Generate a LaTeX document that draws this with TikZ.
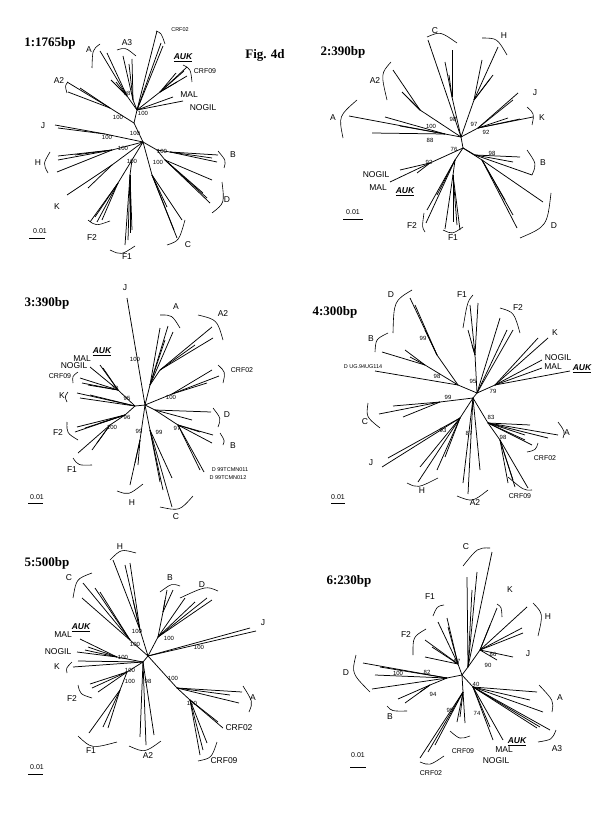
\documentclass[tikz,border=0pt]{standalone}
\usepackage{fontspec}
\setmainfont{Liberation Sans}
\newfontfamily\tnr{Liberation Serif}
\usetikzlibrary{calc}
\newcounter{nn}
\tikzset{
 brn/.style={line width=0.75pt},
 brk/.style={line width=0.6pt},
 lab/.style={inner sep=0pt, font=\fontsize{8.5}{9}\selectfont},
 labs/.style={inner sep=0pt, font=\fontsize{7}{8}\selectfont},
 labxs/.style={inner sep=0pt, font=\fontsize{5.5}{6}\selectfont},
 bsn/.style={inner sep=0pt, font=\fontsize{6}{7}\selectfont},
 ttl/.style={inner sep=0pt, font=\fontsize{13}{14}\selectfont\tnr\bfseries},
 auk/.style={inner sep=0pt, font=\fontsize{8.5}{9}\selectfont\bfseries\itshape},
}
\newcommand\lb[3]{\stepcounter{nn}\node[#1] (t\arabic{nn}) at (#2) {#3};}
\newcommand\lv[2]{\foreach \a/\b in {#2} {\draw[brn] (#1) -- (\a,\b);}}
\newcommand\bk[3]{\draw[brk] let \p1=($(#2)!0.5!(#3)$), \p2=($(#3)-(#2)$), \n1={0.29*veclen(\x2,\y2)} in (#2) .. controls ($(\p1)!-\n1!(#1)$) .. (#3);}
\begin{document}
\begin{tikzpicture}[x=1pt,y=-1pt]
\fill[white] (0,0) rectangle (600,813);
\useasboundingbox (0,0) rectangle (600,813);

% ================= Panel 1
\lb{ttl}{50,43}{1:1765bp}
\lb{ttl}{265,55}{Fig. 4d}
\coordinate (O1) at (143,142);
\coordinate (P1u) at (134,123);
\coordinate (P1v) at (137,110);
\draw[brn] (O1) -- (P1u) -- (P1v);
\lv{P1v}{157/31,163/46,161/43,173/97,183/101}
\coordinate (P1a) at (160,92); \draw[brn] (P1v)--(P1a);
\lv{P1a}{187/67,184/71,187/76,177/82,176/73}
\coordinate (P1b) at (133,100); \draw[brn] (P1v)--(P1b);
\lv{P1b}{132/59,123/56,129/64}
\coordinate (P1c) at (127,96); \draw[brn] (P1v)--(P1c);
\lv{P1c}{100/51,107/53,116/82,111/80}
\coordinate (P1d) at (110,108); \draw[brn] (P1u)--(P1d);
\lv{P1d}{67/82,68/92,80/88}
\coordinate (P1j) at (105,134); \draw[brn] (O1)--(P1j);
\lv{P1j}{55/125,58/128}
\coordinate (P1h) at (112,150); \draw[brn] (O1)--(P1h);
\lv{P1h}{58/156,58/160,57/172,75/155}
\coordinate (P1k) at (112,165); \draw[brn] (O1)--(P1k);
\lv{P1k}{67/195,88/188}
\coordinate (P1f) at (132,160); \draw[brn] (O1)--(P1f);
\coordinate (P1g) at (118,183); \draw[brn] (P1f)--(P1g);
\lv{P1g}{90/222,97/222,102/220,95/217}
\coordinate (P1i) at (130,175); \draw[brn] (P1f)--(P1i);
\lv{P1i}{125/245,130/233,132/230,128/240}
\coordinate (P1cc) at (152,175); \draw[brn] (O1)--(P1cc);
\lv{P1cc}{177/238,182/220,167/207,174/230}
\coordinate (P1e) at (157,150); \draw[brn] (O1)--(P1e);
\coordinate (P1bb) at (170,152); \draw[brn] (P1e)--(P1bb);
\lv{P1bb}{218/155,217/162,212/158}
\coordinate (P1dd) at (165,160); \draw[brn] (P1e)--(P1dd);
\lv{P1dd}{210/203,212/180,203/193,207/198}
\bk{O1}{92,68}{100,44}
\bk{O1}{117,50}{136,56}
\bk{O1}{156,31}{165,44}
\bk{O1}{183,65}{192,82}
\bk{O1}{68,82}{67,93}
\bk{O1}{50,152}{48,173}
\bk{O1}{218,151}{224,168}
\bk{O1}{222,182}{212,213}
\bk{O1}{185,220}{167,245}
\bk{O1}{110,250}{135,246}
\bk{O1}{88,220}{110,221}
\lb{lab}{89,50}{A}
\lb{lab}{127,43}{A3}
\lb{labxs}{180,30}{CRF02}
\lb{auk}{183,58}{\underline{AUK}}
\lb{labs}{205,71}{CRF09}
\lb{lab}{189,95}{MAL}
\lb{lab}{203,108}{NOGIL}
\lb{lab}{59,81}{A2}
\lb{lab}{43,126}{J}
\lb{lab}{38,163}{H}
\lb{lab}{233,155}{B}
\lb{lab}{227,200}{D}
\lb{lab}{57,207}{K}
\lb{lab}{92,238}{F2}
\lb{lab}{127,257}{F1}
\lb{lab}{188,245}{C}
\lb{bsn}{143,113}{100}
\lb{bsn}{118,117}{100}
\lb{bsn}{127,93}{98}
\lb{bsn}{135,133}{100}
\lb{bsn}{107,137}{100}
\lb{bsn}{123,148}{100}
\lb{bsn}{132,161}{100}
\lb{bsn}{162,151}{100}
\lb{bsn}{158,162}{100}
\lb{labs}{40,231}{0.01}
\draw[brn] (29,238) -- (45,238);

% ================= Panel 2
\lb{ttl}{343,52}{2:390bp}
\coordinate (O2) at (463,148); \coordinate (P2u) at (461,137); \draw[brn] (O2)--(P2u);
\lv{P2u}{428/40}
\coordinate (P2c) at (452,97); \draw[brn] (P2u)--(P2c); \lv{P2c}{452/50,445/62,449/75}
\coordinate (P2h) at (474,100); \draw[brn] (P2u)--(P2h); \lv{P2h}{498/47,482/60,493/75,490/79}
\coordinate (P2j) at (478,128); \draw[brn] (P2u)--(P2j); \lv{P2j}{518/93,513/100,533/117,508/118,520/119}
\coordinate (P2a) at (420,110); \draw[brn] (P2u)--(P2a); \lv{P2a}{393/70,402/92,410/100}
\coordinate (P2b) at (445,134); \draw[brn] (P2u)--(P2b); \lv{P2b}{349/116,372/133,385/117,400/126}
\coordinate (P2bb) at (475,155); \draw[brn] (O2)--(P2bb); \lv{P2bb}{520/157,532/175,513/162}
\coordinate (P2d) at (482,160); \draw[brn] (O2)--(P2d); \lv{P2d}{543/202,517/228,513/215,505/200}
\coordinate (P2f) at (455,160); \draw[brn] (O2)--(P2f);
\coordinate (P2g) at (453,175); \draw[brn] (P2f)--(P2g); \lv{P2g}{445/229,460/230,453/222,457/225}
\lv{P2f}{426/223,427/210,437/195}
\coordinate (P2n) at (430,163); \draw[brn] (O2)--(P2n); \lv{P2n}{400/170,390/182,417/173}
\bk{O2}{427,37}{457,43}
\bk{O2}{482,38}{507,55}
\bk{O2}{527,107}{532,125}
\bk{O2}{391,62}{387,100}
\bk{O2}{357,100}{343,138}
\bk{O2}{527,150}{532,175}
\bk{O2}{551,193}{520,238}
\bk{O2}{443,230}{463,227}
\bk{O2}{424,213}{425,232}
\lb{lab}{435,31}{C}
\lb{lab}{504,36}{H}
\lb{lab}{535,93}{J}
\lb{lab}{542,118}{K}
\lb{lab}{375,81}{A2}
\lb{lab}{333,118}{A}
\lb{lab}{543,163}{B}
\lb{lab}{554,226}{D}
\lb{lab}{453,238}{F1}
\lb{lab}{412,226}{F2}
\lb{lab}{376,175}{NOGIL}
\lb{lab}{378,188}{MAL}
\lb{auk}{405,192}{\underline{AUK}}
\lb{bsn}{453,119}{98}
\lb{bsn}{474,124}{97}
\lb{bsn}{486,132}{92}
\lb{bsn}{431,126}{100}
\lb{bsn}{430,140}{88}
\lb{bsn}{454,149}{76}
\lb{bsn}{492,153}{98}
\lb{bsn}{429,162}{92}
\lb{labs}{353,212}{0.01}
\draw[brn] (343,219) -- (363,219);

% ================= Panel 3
\lb{ttl}{47,303}{3:390bp}
\coordinate (O3) at (145,405); \coordinate (P3l) at (135,406); \draw[brn] (O3)--(P3l);
\lv{O3}{127/298}
\coordinate (P3a) at (150,385); \draw[brn] (O3)--(P3a); \lv{P3a}{160/328,168/326,173/332,165/340}
\coordinate (P3a2) at (160,370); \draw[brn] (P3a)--(P3a2); \lv{P3a2}{212/327,213/338,195/345}
\coordinate (P3c2) at (172,394); \draw[brn] (O3)--(P3c2); \lv{P3c2}{212/370,219/376,207/383}
\coordinate (P3d) at (155,410); \draw[brn] (O3)--(P3d); \lv{P3d}{211/412,192/420}
\coordinate (P3b) at (178,425); \draw[brn] (P3d)--(P3b); \lv{P3b}{213/435,212/443,200/432,204/472,200/470}
\coordinate (P3cc) at (150,430); \draw[brn] (O3)--(P3cc); \lv{P3cc}{172/507,160/482,172/478,163/490}
\coordinate (P3h) at (140,440); \draw[brn] (O3)--(P3h); \lv{P3h}{130/485,135/463,138/465}
\coordinate (P3n) at (118,390); \draw[brn] (P3l)--(P3n); \lv{P3n}{90/367,100/365,103/368,80/378,82/383,88/385}
\lv{P3l}{77/393,80/398,90/395}
\coordinate (P3f) at (125,415); \draw[brn] (P3l)--(P3f); \lv{P3f}{75/432,77/427,100/423,85/428}
\coordinate (P3g) at (110,425); \draw[brn] (P3f)--(P3g); \lv{P3g}{78/453,92/450,97/443}
\bk{O3}{160,315}{180,328}
\bk{O3}{198,315}{223,340}
\bk{O3}{218,365}{223,383}
\bk{O3}{213,408}{218,427}
\bk{O3}{220,433}{223,445}
\bk{O3}{193,496}{160,507}
\bk{O3}{143,484}{117,491}
\bk{O3}{92,465}{73,458}
\bk{O3}{78,440}{67,422}
\bk{O3}{67,402}{68,392}
\bk{O3}{73,383}{78,372}
\lb{lab}{125,288}{J}
\lb{lab}{176,307}{A}
\lb{lab}{223,314}{A2}
\lb{labs}{242,370}{CRF02}
\lb{lab}{227,415}{D}
\lb{lab}{233,446}{B}
\lb{labxs}{230,470}{D 99TCMN011}
\lb{labxs}{228,478}{D 99TCMN012}
\lb{lab}{176,517}{C}
\lb{lab}{132,503}{H}
\lb{lab}{72,470}{F1}
\lb{lab}{58,433}{F2}
\lb{lab}{62,396}{K}
\lb{labs}{60,376}{CRF09}
\lb{lab}{74,366}{NOGIL}
\lb{lab}{82,359}{MAL}
\lb{auk}{102,352}{\underline{AUK}}
\lb{bsn}{135,359}{100}
\lb{bsn}{171,397}{100}
\lb{bsn}{177,428}{97}
\lb{bsn}{159,432}{99}
\lb{bsn}{139,431}{99}
\lb{bsn}{115,388}{70}
\lb{bsn}{127,398}{95}
\lb{bsn}{127,417}{96}
\lb{bsn}{112,427}{100}
\lb{labs}{37,497}{0.01}
\draw[brn] (28,503) -- (43,503);

% ================= Panel 4
\lb{ttl}{335,312}{4:300bp}
\coordinate (O4) at (473,398); \coordinate (P4u) at (477,393); \draw[brn] (O4)--(P4u);
\coordinate (P4l) at (458,385); \draw[brn] (P4u)--(P4l);
\coordinate (P4d) at (437,355); \draw[brn] (P4l)--(P4d); \lv{P4d}{410/298,415/305,425/330}
\coordinate (P4b) at (425,365); \draw[brn] (P4l)--(P4b); \lv{P4b}{382/352,405/350,410/357}
\lv{P4l}{375/371}
\coordinate (P4f) at (475,355); \draw[brn] (P4u)--(P4f); \lv{P4f}{470/305,478/303,468/330,472/345}
\lv{P4u}{500/318,507/330,513/330}
\coordinate (P4k) at (495,385); \draw[brn] (P4u)--(P4k); \lv{P4k}{548/338,538/338,542/360,542/368,570/371}
\coordinate (P4c) at (440,402); \draw[brn] (O4)--(P4c); \lv{P4c}{379/414,393/406,403/417}
\coordinate (P4j) at (460,418); \draw[brn] (O4)--(P4j); \lv{P4j}{382/467,388/458,418/482,420/467,437/470,445/457}
\lv{O4}{468/494,463/483,480/470}
\coordinate (P4a) at (488,423); \draw[brn] (O4)--(P4a); \lv{P4a}{530/425,548/438,558/435,525/435,532/445,525/440}
\coordinate (P4r) at (500,440); \draw[brn] (P4a)--(P4r); \lv{P4r}{528/488,513/480,508/483,515/487}
\bk{O4}{393,333}{412,290}
\bk{O4}{375,352}{388,333}
\bk{O4}{463,328}{473,295}
\bk{O4}{500,308}{520,333}
\bk{O4}{380,428}{368,403}
\bk{O4}{438,478}{407,483}
\bk{O4}{488,490}{457,496}
\bk{O4}{558,422}{563,438}
\bk{O4}{538,443}{527,452}
\bk{O4}{532,490}{508,477}
\lb{lab}{391,295}{D}
\lb{lab}{371,339}{B}
\lb{labxs}{363,367}{D UG.94UG114}
\lb{lab}{462,295}{F1}
\lb{lab}{518,308}{F2}
\lb{lab}{555,333}{K}
\lb{lab}{558,358}{NOGIL}
\lb{lab}{553,367}{MAL}
\lb{auk}{582,369}{\underline{AUK}}
\lb{lab}{365,422}{C}
\lb{lab}{371,463}{J}
\lb{lab}{422,491}{H}
\lb{lab}{475,503}{A2}
\lb{lab}{567,433}{A}
\lb{labs}{545,458}{CRF02}
\lb{labs}{520,496}{CRF09}
\lb{bsn}{423,338}{99}
\lb{bsn}{437,376}{98}
\lb{bsn}{473,381}{95}
\lb{bsn}{493,391}{79}
\lb{bsn}{448,397}{99}
\lb{bsn}{443,430}{93}
\lb{bsn}{469,433}{87}
\lb{bsn}{491,417}{83}
\lb{bsn}{503,437}{98}
\lb{labs}{338,497}{0.01}
\draw[brn] (331,503) -- (345,503);

% ================= Panel 5
\lb{ttl}{47,563}{5:500bp}
\coordinate (O5) at (148,656); \coordinate (P5l) at (143,662); \draw[brn] (O5)--(P5l);
\coordinate (P5h) at (140,630); \draw[brn] (O5)--(P5h); \lv{P5h}{113/560,125/565,130/563,133/600}
\coordinate (P5c) at (130,640); \draw[brn] (O5)--(P5c); \lv{P5c}{83/583,82/598,100/592,95/588}
\coordinate (P5e) at (158,637); \draw[brn] (O5)--(P5e);
\coordinate (P5b) at (163,612); \draw[brn] (P5e)--(P5b); \lv{P5b}{167/590,173/590,165/600}
\lv{P5e}{212/600,207/598,185/598,195/602}
\lv{O5}{250/628,256/631}
\coordinate (P5n) at (117,657); \draw[brn] (P5l)--(P5n); \lv{P5n}{80/639,88/647,77/652,85/650}
\lv{P5l}{73/667,78/661}
\coordinate (P5f) at (127,672); \draw[brn] (P5l)--(P5f); \lv{P5f}{90/684,98/692,92/688}
\coordinate (P5g) at (120,690); \draw[brn] (P5f)--(P5g); \lv{P5g}{89/733,103/727,108/728}
\lv{P5l}{146/745,140/737,154/735}
\coordinate (P5a) at (177,688); \draw[brn] (O5)--(P5a); \lv{P5a}{242/692,239/703,230/695}
\coordinate (P5r) at (190,700); \draw[brn] (P5a)--(P5r); \lv{P5r}{223/728,218/722,200/755,207/743,203/750}
\bk{O5}{110,560}{136,553}
\bk{O5}{73,598}{92,573}
\bk{O5}{160,592}{180,586}
\bk{O5}{180,598}{218,591}
\bk{O5}{243,686}{249,712}
\bk{O5}{217,742}{198,761}
\bk{O5}{161,741}{129,746}
\bk{O5}{117,742}{78,736}
\bk{O5}{92,698}{78,685}
\bk{O5}{67,673}{72,662}
\lb{lab}{120,547}{H}
\lb{lab}{69,578}{C}
\lb{lab}{170,578}{B}
\lb{lab}{202,585}{D}
\lb{lab}{263,623}{J}
\lb{lab}{63,635}{MAL}
\lb{auk}{81,628}{\underline{AUK}}
\lb{lab}{58,652}{NOGIL}
\lb{lab}{57,667}{K}
\lb{lab}{72,699}{F2}
\lb{lab}{91,751}{F1}
\lb{lab}{148,756}{A2}
\lb{lab}{253,698}{A}
\lb{lab}{239,728}{CRF02}
\lb{lab}{224,761}{CRF09}
\lb{bsn}{137,631}{100}
\lb{bsn}{135,644}{100}
\lb{bsn}{169,638}{100}
\lb{bsn}{199,647}{100}
\lb{bsn}{123,657}{100}
\lb{bsn}{130,670}{100}
\lb{bsn}{130,681}{100}
\lb{bsn}{148,681}{98}
\lb{bsn}{173,678}{100}
\lb{bsn}{192,703}{100}
\lb{labs}{37,767}{0.01}
\draw[brn] (28,774) -- (43,774);

% ================= Panel 6
\lb{ttl}{349,581}{6:230bp}
\coordinate (O6) at (462,675); \coordinate (P6u) at (468,667); \draw[brn] (O6)--(P6u);
\lv{P6u}{492/552,477/572,467/577,472/590}
\coordinate (P6k) at (480,650); \draw[brn] (P6u)--(P6k); \lv{P6k}{497/608,490/625,527/607,522/628,523/633,513/657,497/660}
\coordinate (P6f) at (458,664); \draw[brn] (O6)--(P6f); \lv{P6f}{438/622,447/618,448/627,425/640,425/657,432/647}
\coordinate (P6d) at (447,678); \draw[brn] (O6)--(P6d); \lv{P6d}{363/663,375/675,372/689,380/667}
\coordinate (P6b) at (430,685); \draw[brn] (P6d)--(P6b); \lv{P6b}{398/699,405/703,420/692}
\coordinate (P6c) at (463,692); \draw[brn] (O6)--(P6c); \lv{P6c}{457/722,465/723,460/717,420/758,428/752,435/745}
\coordinate (P6a) at (473,687); \draw[brn] (O6)--(P6a); \lv{P6a}{537/692,543/712,530/700,550/730,537/728,540/727,493/740,503/740,490/727}
\bk{O6}{463,566}{490,548}
\bk{O6}{497,604}{502,617}
\bk{O6}{533,603}{538,636}
\bk{O6}{433,616}{444,605}
\bk{O6}{413,655}{426,629}
\bk{O6}{370,692}{356,655}
\bk{O6}{407,711}{387,706}
\bk{O6}{470,736}{450,731}
\bk{O6}{444,756}{420,762}
\bk{O6}{539,685}{552,712}
\bk{O6}{556,730}{538,742}
\lb{lab}{466,547}{C}
\lb{lab}{510,590}{K}
\lb{lab}{548,617}{H}
\lb{lab}{528,654}{J}
\lb{lab}{430,597}{F1}
\lb{lab}{406,635}{F2}
\lb{lab}{346,673}{D}
\lb{lab}{390,717}{B}
\lb{labs}{463,751}{CRF09}
\lb{labs}{431,773}{CRF02}
\lb{lab}{560,698}{A}
\lb{lab}{557,749}{A3}
\lb{auk}{517,742}{\underline{AUK}}
\lb{lab}{504,750}{MAL}
\lb{lab}{496,761}{NOGIL}
\lb{bsn}{493,654}{86}
\lb{bsn}{488,665}{90}
\lb{bsn}{457,661}{87}
\lb{bsn}{427,672}{82}
\lb{bsn}{398,673}{100}
\lb{bsn}{433,694}{94}
\lb{bsn}{450,710}{95}
\lb{bsn}{476,684}{40}
\lb{bsn}{477,713}{74}
\lb{labs}{358,755}{0.01}
\draw[brn] (350,767) -- (366,767);
\end{tikzpicture}
\end{document}
